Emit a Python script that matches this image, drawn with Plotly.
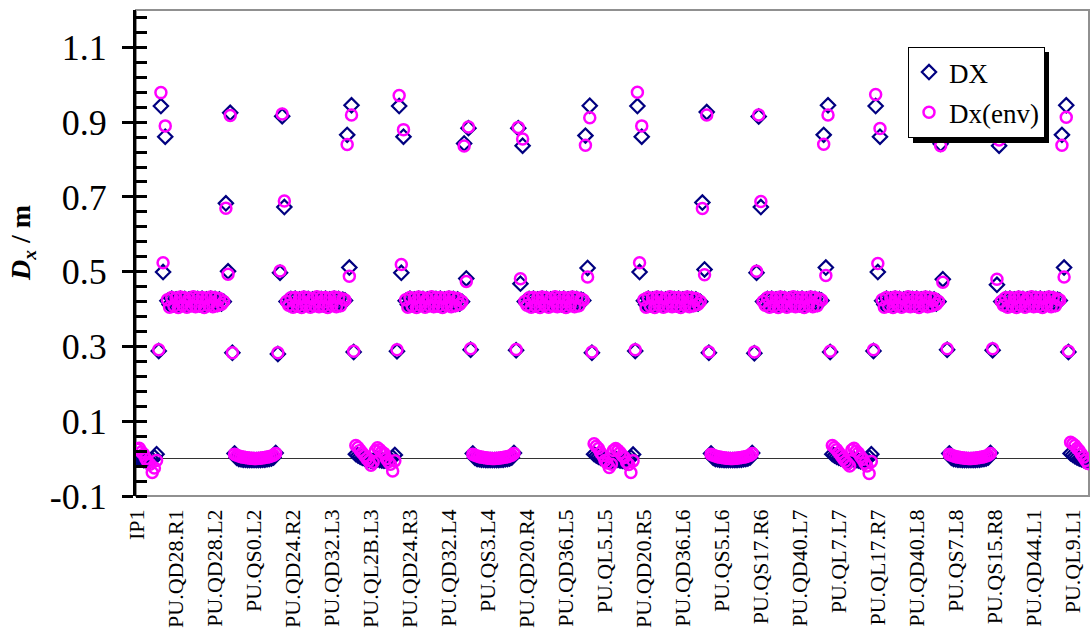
import plotly.graph_objects as go

# ---------------- data ----------------
tick_labels = ["IP1", "PU.QD28.R1", "PU.QD28.L2", "PU.QS0.L2", "PU.QD24.R2", "PU.QD32.L3",
               "PU.QL2B.L3", "PU.QD24.R3", "PU.QD32.L4", "PU.QS3.L4", "PU.QD20.R4", "PU.QD36.L5",
               "PU.QL5.L5", "PU.QD20.R5", "PU.QD36.L6", "PU.QS5.L6", "PU.QS17.R6", "PU.QD40.L7",
               "PU.QL7.L7", "PU.QL17.R7", "PU.QD40.L8", "PU.QS7.L8", "PU.QS15.R8", "PU.QD44.L1",
               "PU.QL9.L1"]
label_every = 18

# odd-IP insertion, right half (4 sectors: IP1, IP3, IP5, IP7)
ip_right_env = [
    [0.025, 0.028, 0.018, 0.012, 0.0, -0.01, -0.015, -0.037, -0.025, -0.005],
    [0.021, 0.029, 0.024, 0.018, 0.014, 0.0, -0.008, -0.015, -0.033, -0.006],
    [0.022, 0.027, 0.022, 0.016, 0.008, 0.003, -0.01, -0.016, -0.037, -0.006],
    [0.023, 0.028, 0.02, 0.015, 0.006, -0.002, -0.012, -0.02, -0.04, -0.008],
]
ip_right_dx = [
    [0.002, 0.0, -0.002, -0.004, -0.006, -0.007, -0.006, -0.003, 0.004, 0.012],
    [0.0, -0.002, -0.004, -0.005, -0.006, -0.006, -0.004, -0.002, 0.003, 0.01],
    [0.001, -0.001, -0.003, -0.005, -0.006, -0.007, -0.005, -0.002, 0.003, 0.011],
    [0.0, -0.002, -0.004, -0.005, -0.007, -0.007, -0.005, -0.002, 0.004, 0.012],
]
# dispersion suppressor after odd IP
sup_a_env = [[0.291, 0.979, 0.524, 0.89], [0.291, 0.971, 0.519, 0.88],
             [0.291, 0.98, 0.524, 0.89], [0.291, 0.974, 0.522, 0.883]]
sup_a_dx = [[0.288, 0.943, 0.499, 0.861], [0.287, 0.943, 0.497, 0.861],
            [0.288, 0.943, 0.499, 0.861], [0.288, 0.943, 0.499, 0.861]]
# arc (first half)
arc_a_env = [0.425, 0.405, 0.431, 0.408, 0.429, 0.404, 0.432, 0.41, 0.43, 0.405, 0.428, 0.409, 0.433, 0.406,
             0.43, 0.408, 0.431, 0.404, 0.429, 0.41, 0.432, 0.406, 0.43, 0.409, 0.428, 0.413, 0.42]
arc_a_dx = [0.422, 0.412, 0.428, 0.413, 0.426, 0.411, 0.428, 0.414, 0.427, 0.412, 0.426, 0.414, 0.428, 0.412,
            0.427, 0.413, 0.428, 0.411, 0.426, 0.414, 0.428, 0.412, 0.427, 0.414, 0.426, 0.415, 0.42]
# suppressor before even IP
sup_b_env = [[0.67, 0.493, 0.918, 0.283], [0.836, 0.474, 0.887, 0.294],
             [0.669, 0.492, 0.919, 0.285], [0.837, 0.472, 0.886, 0.294]]
sup_b_dx = [[0.683, 0.501, 0.925, 0.283], [0.843, 0.482, 0.884, 0.291],
            [0.685, 0.506, 0.927, 0.283], [0.842, 0.48, 0.882, 0.291]]
# even-IP straight section
flat_env = [0.012, 0.009, 0.007, 0.005, 0.004, 0.003, 0.002, 0.001, 0.001, 0.0,
            0.0, 0.001, 0.001, 0.002, 0.003, 0.004, 0.005, 0.007, 0.009, 0.014]
flat_dx = [0.014, 0.002, -0.001, -0.002, -0.003, -0.003, -0.004, -0.004, -0.004, -0.004,
           -0.004, -0.004, -0.004, -0.003, -0.003, -0.002, -0.001, 0.0, 0.003, 0.015]
# suppressor after even IP
sup_c_env = [[0.283, 0.502, 0.922, 0.689], [0.292, 0.886, 0.481, 0.855],
             [0.285, 0.501, 0.919, 0.688], [0.294, 0.886, 0.48, 0.852]]
sup_c_dx = [[0.28, 0.497, 0.916, 0.673], [0.29, 0.884, 0.468, 0.837],
            [0.282, 0.497, 0.915, 0.673], [0.29, 0.884, 0.465, 0.837]]
# arc (second half)
arc_b_env = [0.42, 0.41, 0.43, 0.405, 0.431, 0.408, 0.429, 0.404, 0.432, 0.41, 0.43, 0.405, 0.428, 0.409,
             0.433, 0.406, 0.43, 0.408, 0.431, 0.404, 0.429, 0.41, 0.432, 0.406, 0.43, 0.409, 0.427, 0.424]
arc_b_dx = [0.42, 0.414, 0.427, 0.412, 0.428, 0.413, 0.426, 0.411, 0.428, 0.414, 0.427, 0.412, 0.426, 0.414,
            0.428, 0.412, 0.427, 0.413, 0.428, 0.411, 0.426, 0.414, 0.428, 0.412, 0.427, 0.414, 0.425, 0.423]
# suppressor before odd IP
sup_d_env = [[0.84, 0.488, 0.919, 0.287], [0.838, 0.486, 0.912, 0.285],
             [0.841, 0.49, 0.919, 0.287], [0.838, 0.486, 0.913, 0.287]]
sup_d_dx = [[0.866, 0.511, 0.945, 0.285], [0.864, 0.51, 0.944, 0.283],
            [0.866, 0.511, 0.945, 0.285], [0.866, 0.511, 0.945, 0.285]]
# odd-IP insertion, left half (IP3, IP5, IP7, IP1)
ip_left_env = [
    [0.035, 0.03, 0.022, 0.015, 0.008, 0.0, -0.006, -0.018, -0.01],
    [0.04, 0.033, 0.027, 0.016, 0.008, -0.005, -0.012, -0.024, -0.015],
    [0.035, 0.03, 0.024, 0.016, 0.008, 0.0, -0.007, -0.013, -0.02],
    [0.044, 0.04, 0.035, 0.028, 0.021, 0.012, 0.004, -0.005, -0.013],
]
ip_left_dx = [
    [0.012, 0.008, 0.005, 0.002, 0.0, -0.002, -0.004, -0.006, -0.008],
    [0.012, 0.008, 0.005, 0.002, 0.0, -0.002, -0.004, -0.006, -0.008],
    [0.012, 0.008, 0.005, 0.002, 0.0, -0.002, -0.004, -0.006, -0.008],
    [0.014, 0.01, 0.006, 0.003, 0.0, -0.002, -0.004, -0.006, -0.008],
]

# ---------------- assemble series ----------------
dx_env = []
dx_meas = []
for p in range(4):
    dx_env += (ip_right_env[p] + sup_a_env[p] + arc_a_env + sup_b_env[p] + flat_env
               + sup_c_env[p] + arc_b_env + sup_d_env[p] + ip_left_env[p])
    dx_meas += (ip_right_dx[p] + sup_a_dx[p] + arc_a_dx + sup_b_dx[p] + flat_dx
                + sup_c_dx[p] + arc_b_dx + sup_d_dx[p] + ip_left_dx[p])
n_pts = len(dx_env)
idx = list(range(n_pts))

# ---------------- figure ----------------
W, H = 1091, 633
ML, MR, MT, MB = 136, 2, 10, 137
PW, PH = W - ML - MR, H - MT - MB
FONT = "Liberation Serif"

fig = go.Figure()
fig.add_trace(go.Scatter(
    x=idx, y=dx_meas, mode="markers", name="DX", legendgroup="a",
    marker=dict(symbol="diamond-open", size=11, color="#000080", line=dict(width=2.2, color="#000080")),
))
fig.add_trace(go.Scatter(
    x=idx, y=dx_env, mode="markers", name="Dx(env)", legendgroup="b",
    marker=dict(symbol="circle-open", size=11, color="#FF00FF", line=dict(width=2.5, color="#FF00FF")),
))
# helper trace to carry the inner half of the major y ticks
fig.add_trace(go.Scatter(x=[None], y=[None], yaxis="y2", showlegend=False, hoverinfo="skip"))

ytv = [-0.1, 0.1, 0.3, 0.5, 0.7, 0.9, 1.1]
ytt = ["-0.1", "0.1", "0.3", "0.5", "0.7", "0.9", "1.1"]

fig.update_layout(
    width=W, height=H,
    margin=dict(l=ML, r=MR, t=MT, b=MB, autoexpand=False),
    paper_bgcolor="white", plot_bgcolor="white",
    font=dict(family=FONT, color="black"),
    showlegend=True,
    legend=dict(
        x=(908 - ML) / PW, y=1 - (47 - MT) / PH, xanchor="left", yanchor="top",
        bgcolor="white", bordercolor="black", borderwidth=1,
        font=dict(family=FONT, size=27, color="black"),
        tracegroupgap=2,
    ),
    xaxis=dict(
        range=[-0.5, n_pts - 0.5],
        tickmode="array",
        tickvals=[label_every * i for i in range(len(tick_labels))],
        ticktext=tick_labels,
        tickangle=-90,
        tickfont=dict(family=FONT, size=22, color="black"),
        ticks="", showline=False, showgrid=False, zeroline=False,
        ticklabelstandoff=8,
    ),
    yaxis=dict(
        range=[-0.1, 1.2],
        tickmode="array", tickvals=ytv, ticktext=ytt,
        tickfont=dict(family=FONT, size=36, color="black"),
        ticks="outside", ticklen=11, tickwidth=3, tickcolor="black",
        ticklabelstandoff=8,
        minor=dict(tickmode="linear", tick0=-0.1, dtick=0.04, ticks="inside",
                   ticklen=11, tickwidth=3, tickcolor="black", showgrid=False),
        showline=True, linewidth=3, linecolor="black",
        showgrid=False,
        zeroline=True, zerolinecolor="#333333", zerolinewidth=1,
    ),
    yaxis2=dict(
        range=[-0.1, 1.2], overlaying="y", side="left", anchor="x",
        tickmode="array", tickvals=ytv, showticklabels=False,
        ticks="inside", ticklen=11, tickwidth=3, tickcolor="black",
        showline=False, showgrid=False, zeroline=False,
    ),
    shapes=[
        dict(type="rect", xref="paper", yref="paper", x0=0, x1=1, y0=0, y1=1,
             line=dict(color="#909090", width=2), layer="below"),
        # legend drop shadow
        dict(type="rect", xref="paper", yref="paper",
             x0=(913 - ML) / PW, x1=(1049 - ML) / PW,
             y0=1 - (143 - MT) / PH, y1=1 - (52 - MT) / PH,
             fillcolor="black", line=dict(width=0), layer="above"),
    ],
    annotations=[
        dict(text="<b><i>D</i><sub><i>x</i></sub> / m</b>", xref="paper", yref="paper",
             x=(22 - ML) / PW, y=1 - (243 - MT) / PH, xanchor="center", yanchor="middle",
             textangle=-90, showarrow=False, font=dict(family=FONT, size=28, color="black")),
    ],
)

fig.write_html("out.html")
